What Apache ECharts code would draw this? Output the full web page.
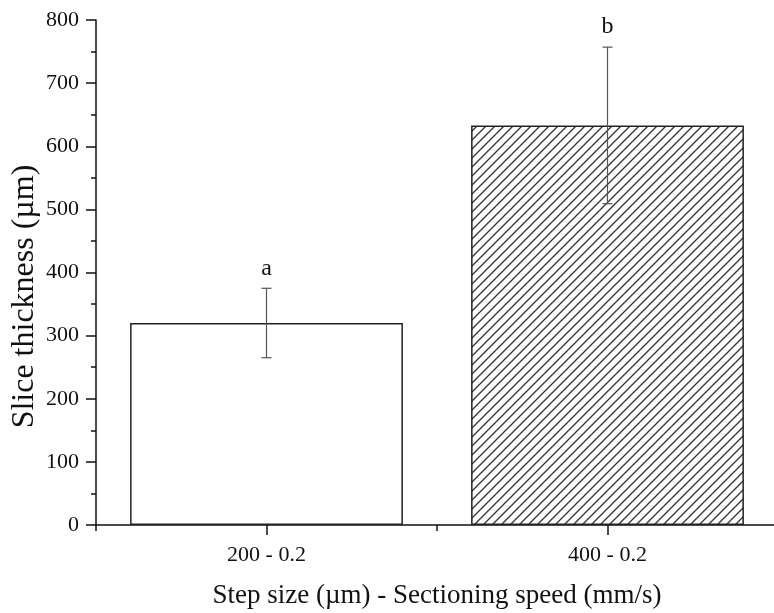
<!DOCTYPE html>
<html>
<head>
<meta charset="utf-8">
<script src="https://cdn.jsdelivr.net/npm/echarts@6/dist/echarts.min.js"></script>
<style>
html, body { margin: 0; padding: 0; background: #fff; }
#chart { width: 774px; height: 613px; }
</style>
</head>
<body>
<div id="chart"></div>
<script>
// data
var categories = ['200 - 0.2', '400 - 0.2'];
var thickness = [320, 633];
var errors = [55, 124];
var letters = ['a', 'b'];

var FONT = '"Liberation Serif", "DejaVu Serif", serif';

// hatch pattern for the second bar
function makeHatch() {
    var s = 9;
    var c = document.createElement('canvas');
    c.width = s;
    c.height = s;
    var ctx = c.getContext('2d');
    ctx.fillStyle = '#fff';
    ctx.fillRect(0, 0, s, s);
    ctx.strokeStyle = '#333';
    ctx.lineWidth = 1.3;
    ctx.beginPath();
    ctx.moveTo(-1, s + 1); ctx.lineTo(s + 1, -1);
    ctx.moveTo(-1, 1); ctx.lineTo(1, -1);
    ctx.moveTo(s - 1, s + 1); ctx.lineTo(s + 1, s - 1);
    ctx.stroke();
    return c;
}

var myChart = echarts.init(document.getElementById('chart'));

var barData = thickness.map(function (v, i) {
    var item = {value: v};
    if (i == 1) {
        item.itemStyle = {color: {image: makeHatch(), repeat: 'repeat'}};
    }
    return item;
});

var errData = thickness.map(function (v, i) {
    return [i, v, errors[i]];
});

var option = {
    backgroundColor: '#fff',
    animation: false,
    grid: {left: 96, width: 682, top: 20, bottom: 88, outerBoundsMode: 'none', containLabel: false},
    xAxis: [
        {
            type: 'category',
            position: 'bottom',
            data: categories,
            boundaryGap: true,
            name: 'Step size (µm) - Sectioning speed (mm/s)',
            nameLocation: 'middle',
            nameGap: 57,
            nameMoveOverlap: false,
            nameTextStyle: {fontFamily: FONT, fontSize: 27, color: '#111'},
            axisLine: {lineStyle: {color: '#111', width: 1.5}},
            axisTick: {show: true, alignWithLabel: true, length: 10, lineStyle: {color: '#111', width: 1.5}},
            axisLabel: {fontFamily: FONT, fontSize: 22, color: '#111', margin: 19},
            splitLine: {show: false}
        },
        {
            // short ticks at the band edges
            type: 'category',
            position: 'bottom',
            data: categories,
            boundaryGap: true,
            axisLine: {show: false},
            axisTick: {show: true, length: 6, lineStyle: {color: '#111', width: 1.5}},
            axisLabel: {show: false},
            splitLine: {show: false}
        }
    ],
    yAxis: {
        type: 'value',
        min: 0,
        max: 800,
        interval: 100,
        name: 'Slice thickness (µm)',
        nameLocation: 'middle',
        nameGap: 55,
        nameMoveOverlap: false,
        nameTextStyle: {fontFamily: FONT, fontSize: 32, color: '#111', padding: [0, 48, 0, 0]},
        axisLine: {show: true, lineStyle: {color: '#111', width: 1.5}},
        axisTick: {show: true, inside: false, length: 10, lineStyle: {color: '#111', width: 1.5}},
        minorTick: {show: true, splitNumber: 2, length: 5, lineStyle: {color: '#111', width: 1.5}},
        axisLabel: {fontFamily: FONT, fontSize: 22, color: '#111', margin: 17},
        splitLine: {show: false}
    },
    series: [
        {
            name: 'thickness',
            type: 'bar',
            barWidth: '80%',
            data: barData,
            itemStyle: {color: '#fff', borderColor: '#222', borderWidth: 1.5}
        },
        {
            name: 'error',
            type: 'custom',
            data: errData,
            z: 10,
            renderItem: function (params, api) {
                var x = api.value(0);
                var m = api.value(1);
                var e = api.value(2);
                var top = api.coord([x, m + e]);
                var bot = api.coord([x, m - e]);
                var hw = 5;
                var st = {stroke: '#555', lineWidth: 1.2};
                return {
                    type: 'group',
                    children: [
                        {type: 'line', shape: {x1: top[0], y1: top[1], x2: bot[0], y2: bot[1]}, style: st},
                        {type: 'line', shape: {x1: top[0] - hw, y1: top[1], x2: top[0] + hw, y2: top[1]}, style: st},
                        {type: 'line', shape: {x1: bot[0] - hw, y1: bot[1], x2: bot[0] + hw, y2: bot[1]}, style: st},
                        {
                            type: 'text',
                            style: {
                                text: letters[params.dataIndex],
                                x: top[0],
                                y: top[1] - 8,
                                align: 'center',
                                verticalAlign: 'bottom',
                                font: '24px ' + FONT,
                                fill: '#111'
                            }
                        }
                    ]
                };
            }
        }
    ]
};

myChart.setOption(option);
</script>
</body>
</html>
